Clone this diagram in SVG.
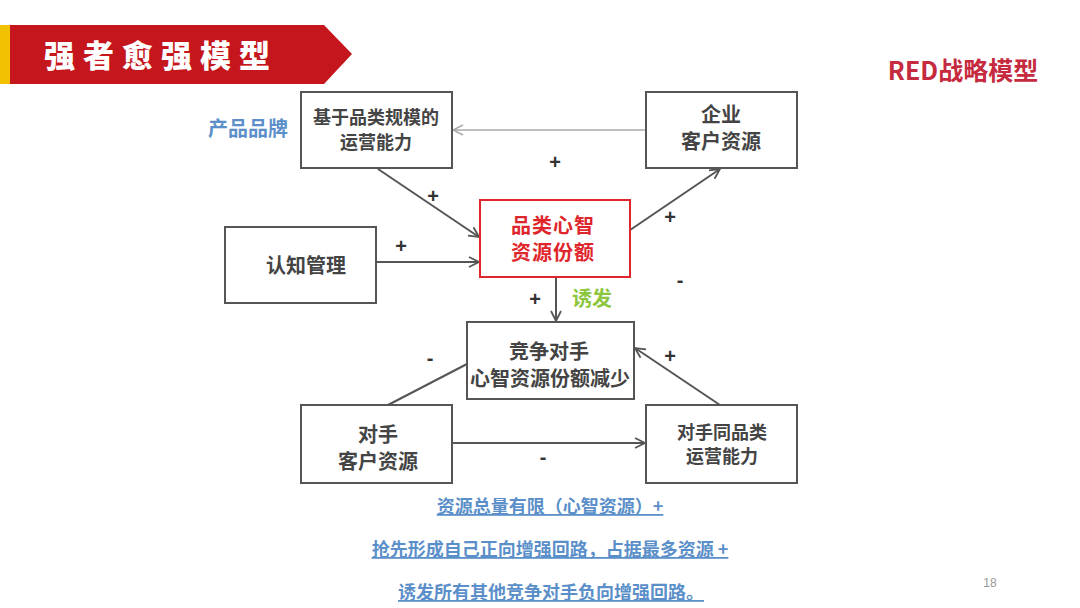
<svg xmlns="http://www.w3.org/2000/svg" width="1080" height="608" viewBox="0 0 1080 608">
<defs>
<style>
.box{fill:#fff;stroke:#555;stroke-width:2}
.t{font-family:"Noto Sans CJK SC","Liberation Sans",sans-serif;font-weight:700;fill:#444;text-anchor:middle}
.c{stroke:#555;stroke-width:2;fill:none}
.lbl{font-family:"Liberation Sans","Noto Sans CJK SC",sans-serif;font-size:20px;font-weight:700;fill:#333;text-anchor:middle}
.note{font-family:"Noto Sans CJK SC",sans-serif;font-size:18px;font-weight:700;fill:#5b8fc9;text-anchor:middle;text-decoration:underline}
</style>
<marker id="ah" viewBox="0 0 12 12" refX="11" refY="6" markerWidth="12" markerHeight="12" markerUnits="userSpaceOnUse" orient="auto">
<path d="M1,1 L11,6 L1,11" fill="none" stroke="#555" stroke-width="1.8"/>
</marker>
<marker id="ahl" viewBox="0 0 12 12" refX="11" refY="6" markerWidth="12" markerHeight="12" markerUnits="userSpaceOnUse" orient="auto">
<path d="M1,1 L11,6 L1,11" fill="none" stroke="#aaa" stroke-width="1.5"/>
</marker>
</defs>
<rect width="1080" height="608" fill="#fff"/>
<g id="header">
<rect x="0" y="25" width="10" height="59" fill="#f2c200"/>
<polygon points="10,25 324,25 352,54 324,84 10,84" fill="#c4161c"/>
<text x="161" y="67" font-family="Noto Sans CJK SC,sans-serif" font-size="31" font-weight="900" fill="#fff" text-anchor="middle" letter-spacing="8">强者愈强模型</text>
<text x="963" y="80" font-family="Noto Sans CJK SC,sans-serif" font-size="25" font-weight="700" fill="#c52a3e" text-anchor="middle">RED战略模型</text>
</g>
<g id="connectors">
<line class="c" x1="646" y1="130" x2="453" y2="130" style="stroke:#aaa;stroke-width:1.5" marker-end="url(#ahl)"/>
<line class="c" x1="378" y1="169" x2="479" y2="237" marker-end="url(#ah)"/>
<line class="c" x1="376" y1="262" x2="479" y2="262" marker-end="url(#ah)"/>
<line class="c" x1="608" y1="245" x2="720" y2="169" marker-end="url(#ah)"/>
<line class="c" x1="556" y1="277" x2="556" y2="321" marker-end="url(#ah)"/>
<line class="c" x1="388" y1="405" x2="467" y2="364"/>
<line class="c" x1="720" y1="405" x2="635" y2="348" marker-end="url(#ah)"/>
<line class="c" x1="453" y1="443" x2="645" y2="443" marker-end="url(#ah)"/>
<text class="lbl" x="555" y="169">+</text>
<text class="lbl" x="433" y="203">+</text>
<text class="lbl" x="401" y="253">+</text>
<text class="lbl" x="670" y="224">+</text>
<text class="lbl" x="680" y="287">-</text>
<text class="lbl" x="535" y="306">+</text>
<text x="592" y="306" font-family="Noto Sans CJK SC,sans-serif" font-size="20" font-weight="700" fill="#8cc63f" text-anchor="middle">诱发</text>
<text class="lbl" x="430" y="365">-</text>
<text class="lbl" x="670" y="363">+</text>
<text class="lbl" x="543" y="464">-</text>
</g>
<g id="n1">
<rect class="box" x="301" y="92" width="151" height="76"/>
<text class="t" x="376" y="124" font-size="18"><tspan x="376">基于品类规模的</tspan><tspan x="376" dy="25">运营能力</tspan></text>
</g>
<text x="248" y="136" font-family="Noto Sans CJK SC,sans-serif" font-size="20" font-weight="700" fill="#5b8fc9" text-anchor="middle">产品品牌</text>
<g id="n2">
<rect class="box" x="646" y="92" width="151" height="76"/>
<text class="t" x="721" y="122" font-size="20"><tspan x="721">企业</tspan><tspan x="721" dy="27">客户资源</tspan></text>
</g>
<g id="n3">
<rect x="480" y="200" width="150" height="77" fill="#fff" stroke="#e0262d" stroke-width="2"/>
<text class="t" x="553" y="233" font-size="20" style="fill:#e0262d" letter-spacing="1"><tspan x="553">品类心智</tspan><tspan x="553" dy="27">资源份额</tspan></text>
</g>
<g id="n4">
<rect class="box" x="225" y="227" width="151" height="76"/>
<text class="t" x="306" y="273" font-size="20">认知管理</text>
</g>
<g id="n5">
<rect class="box" x="467" y="322" width="167" height="77"/>
<text class="t" x="549" y="359" font-size="20"><tspan x="549">竞争对手</tspan><tspan x="550" dy="27">心智资源份额减少</tspan></text>
</g>
<g id="n6">
<rect class="box" x="301" y="405" width="151" height="78"/>
<text class="t" x="378" y="442" font-size="20"><tspan x="378">对手</tspan><tspan x="378" dy="27">客户资源</tspan></text>
</g>
<g id="n7">
<rect class="box" x="646" y="405" width="151" height="78"/>
<text class="t" x="722" y="439" font-size="18"><tspan x="722">对手同品类</tspan><tspan x="722" dy="24">运营能力</tspan></text>
</g>
<g id="notes">
<text class="note" x="550" y="513">资源总量有限（心智资源）+</text>
<text class="note" x="550" y="556">抢先形成自己正向增强回路，占据最多资源 +</text>
<text class="note" x="551" y="599">诱发所有其他竞争对手负向增强回路。</text>
</g>
<text x="990" y="587" font-family="Liberation Sans,sans-serif" font-size="12" fill="#999" text-anchor="middle">18</text>
</svg>
